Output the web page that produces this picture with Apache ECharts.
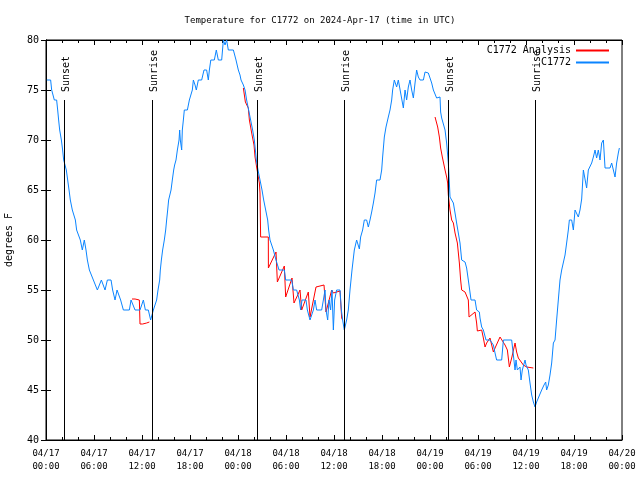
<!DOCTYPE html>
<html><head><meta charset="utf-8">
<script src="https://cdn.jsdelivr.net/npm/echarts@6/dist/echarts.min.js"></script>
<style>html,body{margin:0;padding:0;background:#fff}#c{width:640px;height:480px}</style>
</head><body><div id="c"></div>
<script>
// hours since 2024-04-17 00:00 UTC
const obsHours = [0.1,0.29,0.58,0.71,1.04,1.33,1.46,1.58,1.71,1.92,2.08,2.21,2.54,2.71,2.88,3.04,3.29,3.5,3.67,3.83,4.08,4.29,4.54,4.79,5.0,5.17,5.42,5.58,5.92,6.17,6.42,6.63,6.92,7.17,7.38,7.67,8.13,8.33,8.63,8.88,9.13,9.33,9.67,10.42,10.63,10.88,11.13,11.75,12.17,12.42,12.79,13.08,13.42,13.63,13.83,14.0,14.21,14.29,14.42,14.58,14.79,14.96,15.08,15.21,15.33,15.46,15.63,15.79,15.96,16.08,16.25,16.42,16.63,16.71,16.79,16.96,17.04,17.17,17.29,17.67,17.92,18.17,18.29,18.42,18.63,18.79,19.04,19.46,19.75,20.08,20.29,20.42,20.6,21.04,21.29,21.54,21.96,22.17,22.38,22.58,22.79,23.0,23.42,23.75,24.04,24.25,24.38,24.67,24.88,25.08,25.33,25.58,25.83,26.04,26.17,26.29,26.5,26.75,27.0,27.21,27.46,27.71,27.83,28.0,28.42,28.75,29.13,29.79,29.96,30.71,30.92,31.33,31.67,31.83,32.0,32.5,32.67,33.0,33.21,33.42,33.63,33.83,34.46,34.67,34.88,35.0,35.21,35.38,35.58,35.75,35.92,36.08,36.33,36.75,36.92,37.08,37.29,37.58,37.79,38.0,38.25,38.54,38.83,39.17,39.33,39.58,39.79,40.08,40.29,40.5,40.71,40.92,41.13,41.33,41.75,41.96,42.08,42.29,42.5,42.79,43.0,43.21,43.33,43.54,43.83,44.04,44.25,44.67,44.88,45.08,45.29,45.5,45.71,45.92,46.13,46.33,46.54,46.75,47.17,47.38,47.58,47.79,48.0,48.21,48.42,48.63,48.83,49.04,49.25,49.33,49.46,49.67,49.88,50.08,50.29,50.42,50.5,50.71,50.92,51.13,51.33,51.54,51.75,51.96,52.38,52.58,52.79,53.0,53.13,53.63,53.83,54.17,54.25,54.46,54.67,55.0,55.5,55.71,55.92,56.13,56.33,56.96,57.17,58.21,58.42,58.63,58.75,58.92,59.25,59.38,59.54,59.88,60.0,60.29,60.5,60.71,60.92,61.13,61.33,61.54,61.96,62.25,62.46,62.58,62.79,63.0,63.21,63.42,63.63,63.83,64.04,64.25,64.46,64.67,64.88,65.08,65.29,65.42,65.71,65.92,66.13,66.33,66.54,66.75,66.96,67.17,67.38,67.58,67.79,68.0,68.21,68.42,68.63,68.83,69.04,69.25,69.46,69.67,69.88,70.5,70.71,71.13,71.33,71.54,71.67];
const obsTemps = [76,76,76,75,74,74,73,72,71,70,69,68,67,66,65,64,63,63,62,61,61,60,59,60,59,58,57,57,56,56,55,55,56,56,55,56,56,55,54,55,55,54,53,53,54,54,53,53,54,53,53,52,53,53,54,55,56,57,58,59,60,61,62,63,64,64,65,66,67,67.5,68,69,70,71,70,69,71,72,73,73,74,74,75,76,75.5,75,76,76,77,77,76,77,78,78,79,78,78,80,79.5,80,79,79,79,78,77,76.5,76,75.5,75,74,73,72,71,70,69,68,67,66,65,64,63,62,61,60,59,58,57,57,56,56,55,55,54,53,54,54,53,52,52,53,54,53,53,54,55,53,52,54,53,55,51,54,55,55,53,52,51,52,53,55,57,59,60,59.1,60.3,61,62,62,61.3,62,62.8,63.7,64.7,66,66,67,68.3,70.3,71.3,72.3,73,74,75,76,75.3,76,76,73.2,75,74,75.3,76,75,74.2,75.7,77,76.3,76,76,76.8,77,76.7,76.2,75.7,75,75,74.2,74.2,74.3,72.8,72.2,72,71,69.7,67.7,65.7,64.3,64,63.7,62.7,61.7,60.7,59.7,58,57.8,57.2,56,55.8,54,54,53,52.8,52.2,51.3,51,50,50,50.2,49.5,48.7,48,48,50,50,48.5,47,48,47,47.3,46,47,48,47.5,47,45.7,44.5,43.8,43.3,43.8,44,45,45.5,45.8,45,45.5,46.5,47.7,49.7,50,52,54,56,57,57.2,58.5,59.7,61,62,62,61,63,62.8,62.3,63,64.1,67,67,65.2,67,67.2,67.7,68.3,69,68.2,69,68,69.7,70,67.2,67.2,67.7,66.3,67.7,68.7,69.2];

const ana1Hours = [10.75,11.13,11.17,11.67,11.75,12.08,12.17,12.58,12.92];
const ana1Temps = [54.1,54.1,54.0,54.0,51.6,51.6,51.7,51.7,51.8];
const ana2Hours = [24.67,24.88,24.92,25.08,25.29,25.42,25.58,25.71,25.83,26.0,26.13,26.33,26.54,26.67,26.75,26.83,27.79,27.8,28.75,28.92,29.79,29.96,30.75,31.0,31.75,31.96,32.79,33.0,33.75,34.75,35.0,35.71,35.92,36.75,36.96,37.08];
const ana2Temps = [75.2,75.2,73.8,73.8,73.2,72,71.3,70.7,70.2,69.5,68.3,67.3,66.3,65.7,64.7,60.3,60.3,57.2,58.8,55.8,57.4,54.3,56.2,53.7,55,53,54.8,52.3,55.3,55.5,52.8,55,54.7,54.9,52.2,52];
const ana3Hours = [48.63,48.83,48.96,49.17,49.33,49.54,49.75,49.88,50.08,50.21,50.29,50.5,50.71,50.92,51.13,51.42,51.67,51.83,51.96,52.38,52.58,52.79,52.88,53.08,53.63,53.83,53.92,54.46,54.67,54.88,55.08,55.5,55.71,55.92,56.13,56.75,56.96,57.38,57.67,57.92,58.21,58.63,58.83,59.04,59.25,59.67,60.08,60.92];
const ana3Temps = [72.3,72.3,71.3,70.3,69.2,68.3,68.1,67,66.3,65.7,64.5,63,62,61.7,60.7,59.7,57.7,56,55,54.8,54.7,54,52.3,52.5,52.8,51.7,50.9,51,50.2,49.3,49.7,50.2,50,48.8,49.2,50.3,50.2,49.5,49,47.3,48.2,49.7,48.8,48.2,48,47.5,47.3,47.2];

const sunHours = [2.29,13.29,26.33,37.29,50.29,61.17];
const sunLabels = ['Sunset','Sunrise','Sunset','Sunrise','Sunset','Sunrise'];
const dayLabels = ['04/17','04/18','04/19','04/20'];

const MONO = 'DejaVu Sans Mono';
const zip = (a,b) => a.map((v,i)=>[v,b[i]]);
const RED = '#ff0000', BLUE = '#0a84ff';

function tickFmt(v){
  const d = Math.floor(v/24), h = v - d*24;
  return dayLabels[d] + '\n' + String(h).padStart(2,'0') + ':00';
}
const xBase = {type:'value',min:0,max:72,interval:6,
  axisLine:{show:true,lineStyle:{color:'#000',width:1}},
  axisTick:{show:true,inside:true,length:5,lineStyle:{color:'#000'}},
  minorTick:{show:true,splitNumber:3,length:3,lineStyle:{color:'#000'}},
  splitLine:{show:false}, minorSplitLine:{show:false}};
const yBase = {type:'value',min:40,max:80,interval:5,
  axisLine:{show:true,lineStyle:{color:'#000',width:1}},
  axisTick:{show:true,inside:true,length:5,lineStyle:{color:'#000'}},
  splitLine:{show:false}};

const redLine = (h,t)=>({name:'C1772 Analysis',type:'line',data:zip(h,t),showSymbol:false,symbol:'none',
  lineStyle:{color:RED,width:1},itemStyle:{color:RED},z:2});

const legendCommon = {right:31,padding:0,itemWidth:33,itemHeight:2,icon:'rect',align:'right',
  textStyle:{fontFamily:MONO,fontSize:10,color:'#000',lineHeight:11},selectedMode:false};

const chart = echarts.init(document.getElementById('c'),null,{renderer:'canvas'});
chart.setOption({
  animation:false,
  backgroundColor:'#fff',
  title:{text:'Temperature for C1772 on 2024-Apr-17 (time in UTC)',left:'center',top:11,
    textStyle:{fontFamily:MONO,fontSize:9,fontWeight:'normal',color:'#000'}},
  grid:{left:46,right:18,top:40,bottom:40,show:true,borderColor:'#000',borderWidth:1,
    containLabel:false,outerBoundsMode:'none'},
  legend:[
    Object.assign({data:['C1772 Analysis'],top:45},legendCommon),
    Object.assign({data:['C1772'],top:57},legendCommon)
  ],
  xAxis:[
    Object.assign({},xBase,{position:'bottom',
      axisLabel:{formatter:tickFmt,fontFamily:MONO,fontSize:9,color:'#000',lineHeight:13,margin:7}}),
    Object.assign({},xBase,{position:'top',axisLabel:{show:false}})
  ],
  yAxis:[
    Object.assign({},yBase,{position:'left',name:'degrees F',nameLocation:'middle',nameGap:32,nameRotate:90,
      nameTextStyle:{fontFamily:MONO,fontSize:10,color:'#000'},
      axisLabel:{fontFamily:MONO,fontSize:10,color:'#000',margin:7}}),
    Object.assign({},yBase,{position:'right',axisLabel:{show:false}})
  ],
  series:[
    redLine(ana1Hours,ana1Temps),
    redLine(ana2Hours,ana2Temps),
    redLine(ana3Hours,ana3Temps),
    {name:'C1772',type:'line',data:zip(obsHours,obsTemps),showSymbol:false,symbol:'none',
      lineStyle:{color:BLUE,width:1},itemStyle:{color:BLUE},z:3},
    {type:'custom',name:'sun',data:zip(sunHours,sunLabels),z:4,silent:true,
      encode:{x:0},
      renderItem:function(params,api){
        const h = api.value(0);
        const top = api.coord([h,74]);
        const bot = api.coord([h,40]);
        const x = Math.round(top[0])+0.5;
        return {type:'group',children:[
          {type:'line',shape:{x1:x,y1:top[1],x2:x,y2:bot[1]},style:{stroke:'#000',lineWidth:1}},
          {type:'text',x:x+2,y:top[1]-8,rotation:Math.PI/2,
            style:{text:sunLabels[params.dataIndex],font:'10px '+MONO,fill:'#000',align:'left',verticalAlign:'middle'}}
        ]};
      }}
  ]
});
</script></body></html>
